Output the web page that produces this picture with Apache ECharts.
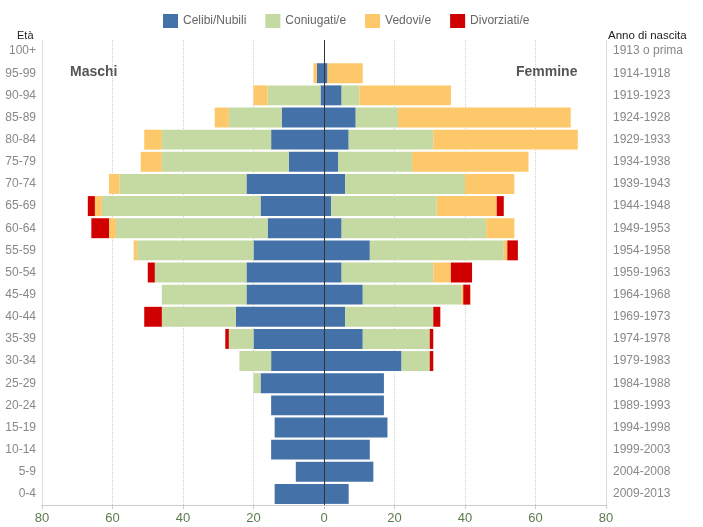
<!DOCTYPE html>
<html>
<head>
<meta charset="utf-8">
<script src="https://cdn.jsdelivr.net/npm/echarts@6/dist/echarts.min.js"></script>
<style>html,body{margin:0;padding:0;background:#fff}#c{width:703px;height:527px}</style>
</head>
<body>
<div id="c"></div>
<script>
var ages = ['100+','95-99','90-94','85-89','80-84','75-79','70-74','65-69','60-64','55-59','50-54','45-49','40-44','35-39','30-34','25-29','20-24','15-19','10-14','5-9','0-4'];
var years = ['1913 o prima','1914-1918','1919-1923','1924-1928','1929-1933','1934-1938','1939-1943','1944-1948','1949-1953','1954-1958','1959-1963','1964-1968','1969-1973','1974-1978','1979-1983','1984-1988','1989-1993','1994-1998','1999-2003','2004-2008','2009-2013'];
var seriesNames = ['Celibi/Nubili','Coniugati/e','Vedovi/e','Divorziati/e'];
var xTicks = [-80,-60,-40,-20,0,20,40,60,80];

// Maschi
var celibiM    = [0,2,1,12,15,10,22,18,16,20,22,22,25,20,15,18,15,14,15,8,14];
var coniugatiM = [0,0,15,15,31,36,36,45,43,33,26,24,21,7,9,2,0,0,0,0,0];
var vedoviM    = [0,1,4,4,5,6,3,2,2,1,0,0,0,0,0,0,0,0,0,0,0];
var divorziatiM= [0,0,0,0,0,0,0,2,5,0,2,0,5,1,0,0,0,0,0,0,0];
// Femmine
var nubiliF    = [0,1,5,9,7,4,6,2,5,13,5,11,6,11,22,17,17,18,13,14,7];
var coniugateF = [0,0,5,12,24,21,34,30,41,38,26,28,25,19,8,0,0,0,0,0,0];
var vedoveF    = [0,10,26,49,41,33,14,17,8,1,5,0.5,0,0,0,0,0,0,0,0,0];
var divorziateF= [0,0,0,0,0,0,0,2,0,3,6,2,2,1,1,0,0,0,0,0,0];

var colors = ['#4472a8','#c5d9a2','#fdc86a','#d00000'];
var males = [celibiM, coniugatiM, vedoviM, divorziatiM];
var females = [nubiliF, coniugateF, vedoveF, divorziateF];

var series = [];
for (var i = 0; i < 4; i++) {
  series.push({
    name: seriesNames[i], type: 'bar', stack: 'all', barCategoryGap: '10%',
    itemStyle: {color: colors[i]},
    data: males[i].map(function(v){return -v;}),
    emphasis: {disabled: true}
  });
}
for (var j = 0; j < 4; j++) {
  series.push({
    name: seriesNames[j], type: 'bar', stack: 'all', barCategoryGap: '10%',
    itemStyle: {color: colors[j]},
    data: females[j].slice(),
    emphasis: {disabled: true}
  });
}
series[0].markLine = {
  silent: true, symbol: 'none', label: {show: false},
  lineStyle: {color: '#333', type: 'solid', width: 1},
  data: [{xAxis: 0}]
};

var chart = echarts.init(document.getElementById('c'));
chart.setOption({
  animation: false,
  textStyle: {fontFamily: 'Liberation Sans, Arial, sans-serif'},
  color: colors,
  legend: {
    top: 9, left: 158, itemWidth: 15, itemHeight: 14, itemGap: 19,
    icon: 'rect', data: seriesNames,
    textStyle: {color: '#666', fontSize: 12, fontFamily: 'Liberation Sans, Arial, sans-serif'}
  },
  grid: {left: 42, right: 97, top: 40, bottom: 22, containLabel: false},
  xAxis: {
    type: 'value', min: -80, max: 80, interval: 20,
    axisLine: {show: true, onZero: false, lineStyle: {color: '#ccc'}},
    axisTick: {show: true, length: 4, lineStyle: {color: '#ccc'}},
    axisLabel: {color: '#5d7a4f', fontSize: 13, margin: 7,
      formatter: function(v){ return xTicks.indexOf(v) >= 0 ? String(Math.abs(v)) : ''; }},
    splitLine: {show: true, lineStyle: {color: '#d0d0d0', type: 'dotted'}}
  },
  yAxis: [{
    type: 'category', data: ages, inverse: true,
    axisLine: {show: true, onZero: false, lineStyle: {color: '#ddd'}},
    axisTick: {show: false},
    axisLabel: {color: '#888', fontSize: 12, margin: 6}
  }, {
    type: 'category', data: years, inverse: true, position: 'right',
    axisLine: {show: true, onZero: false, lineStyle: {color: '#ddd'}},
    axisTick: {show: false},
    axisLabel: {color: '#888', fontSize: 12, margin: 7}
  }],
  graphic: [
    {type: 'text', left: 17, top: 30, style: {text: 'Età', fill: '#222', font: '11px Liberation Sans, Arial, sans-serif'}},
    {type: 'text', left: 608, top: 30, style: {text: 'Anno di nascita', fill: '#222', font: '11.5px Liberation Sans, Arial, sans-serif'}},
    {type: 'text', left: 70, top: 65, style: {text: 'Maschi', fill: '#555', font: 'bold 14px Liberation Sans, Arial, sans-serif'}},
    {type: 'text', left: 516, top: 65, style: {text: 'Femmine', fill: '#555', font: 'bold 14px Liberation Sans, Arial, sans-serif'}}
  ],
  series: series
});
</script>
</body>
</html>
